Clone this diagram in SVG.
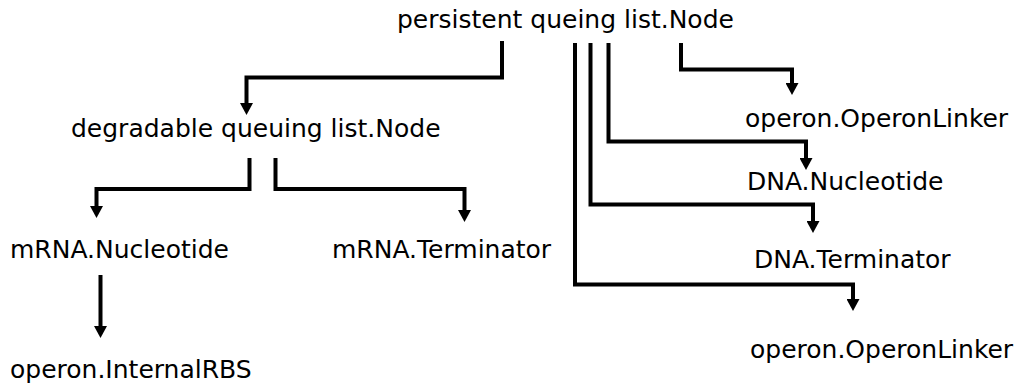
<svg xmlns="http://www.w3.org/2000/svg" width="1022" height="386" viewBox="0 0 1022 386">
<style>
text{font-family:"DejaVu Sans",sans-serif;font-size:25px;fill:#000}
.c{fill:none;stroke:#000;stroke-width:4;stroke-linejoin:miter;marker-end:url(#ah)}
</style>
<defs>
<marker id="ah" viewBox="0 0 12 13" markerWidth="12" markerHeight="13" refX="1" refY="6.5" orient="auto" markerUnits="userSpaceOnUse">
<path d="M0,0 L12,6.5 L0,13 z" fill="#000"/>
</marker>
</defs>
<rect width="1022" height="386" fill="#fff"/>
<g id="connectors">
<path class="c" d="M502,41 V77.5 H246.5 V104"/>
<path class="c" d="M249.5,158 V189 H96.5 V207"/>
<path class="c" d="M275.5,158 V189 H464.5 V211"/>
<path class="c" d="M100.5,275 V327"/>
<path class="c" d="M681,43 V69.5 H792 V84"/>
<path class="c" d="M608.5,43 V141.5 H806 V159"/>
<path class="c" d="M590.5,43 V204.5 H813 V222"/>
<path class="c" d="M575,43 V284.5 H853 V300"/>
</g>
<g id="n-persistent"><text x="397" y="28">persistent queing list.Node</text></g>
<g id="n-degradable"><text x="71" y="137">degradable queuing list.Node</text></g>
<g id="n-mrna-nucleotide"><text x="10" y="258">mRNA.Nucleotide</text></g>
<g id="n-mrna-terminator"><text x="332" y="258">mRNA.Terminator</text></g>
<g id="n-internalrbs"><text x="10" y="378">operon.InternalRBS</text></g>
<g id="n-operonlinker1"><text x="745" y="127">operon.OperonLinker</text></g>
<g id="n-dna-nucleotide"><text x="747" y="190">DNA.Nucleotide</text></g>
<g id="n-dna-terminator"><text x="754" y="268">DNA.Terminator</text></g>
<g id="n-operonlinker2"><text x="750" y="358">operon.OperonLinker</text></g>
</svg>
